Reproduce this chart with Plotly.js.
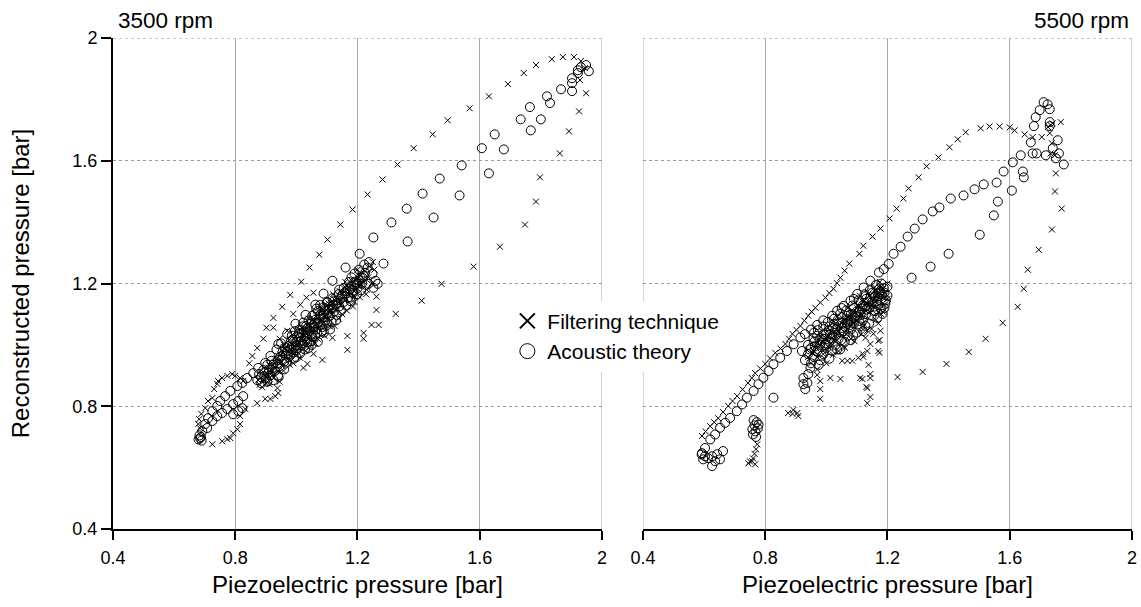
<!DOCTYPE html>
<html>
<head>
<meta charset="utf-8">
<script src="https://cdn.plot.ly/plotly-3.0.1.min.js"></script>
<style>html,body{margin:0;padding:0;background:#fff;}#chart{width:1141px;height:607px;}</style>
</head>
<body>
<div id="chart"></div>
<script>
// ---- data, [piezoelectric, reconstructed] in bar ----
const panelTitles = ['3500 rpm', '5500 rpm'];
const seriesNames = ['Filtering technique', 'Acoustic theory'];
const tickVals = [0.4, 0.8, 1.2, 1.6, 2];
const tickText = ['0.4', '0.8', '1.2', '1.6', '2'];

// 3500 rpm, filtering technique
const left3500Filt = [
[1.908,1.938],[1.872,1.938],[1.836,1.931],[1.784,1.912],[1.744,1.886],[1.692,1.850],[1.630,1.810],[1.567,1.771],
[1.495,1.732],[1.446,1.686],[1.384,1.641],[1.331,1.588],[1.282,1.539],[1.233,1.490],[1.184,1.441],[1.144,1.392],
[1.102,1.343],[1.075,1.294],[1.043,1.252],[1.016,1.206],[0.980,1.163],[0.954,1.124],[0.925,1.088],[0.902,1.056],
[0.892,1.020],[0.872,0.990],[0.856,0.964],[0.846,0.940],
[0.826,0.882],[0.816,0.892],[0.800,0.899],[0.790,0.905],[0.774,0.899],[0.757,0.892],[0.744,0.882],[0.741,0.873],
[0.731,0.856],[0.725,0.827],[0.711,0.817],[0.702,0.794],[0.689,0.775],[0.682,0.758],[0.679,0.742],[0.685,0.728],
[0.725,0.676],[0.757,0.686],[0.774,0.693],[0.784,0.696],[0.793,0.712],[0.807,0.725],[0.816,0.742],[0.816,0.768],
[0.833,0.791],[0.872,0.810],[0.898,0.824],[0.915,0.824],[0.931,0.833],[0.941,0.843],[0.938,0.859],
[1.931,1.925],[1.944,1.902],[1.928,1.863],[1.948,1.820],[1.925,1.761],[1.892,1.696],[1.862,1.624],[1.797,1.546],
[1.784,1.467],[1.748,1.392],[1.666,1.320],[1.580,1.255],[1.475,1.199],[1.410,1.144],[1.325,1.101],[1.269,1.065],
[1.246,1.065],[1.220,1.039],[1.220,1.020],[1.262,1.114],[1.262,1.157],[1.167,1.029],[1.167,0.984],[1.118,1.023],
[1.085,0.951],[1.056,0.971],[1.036,0.938],[1.023,0.925],
[0.990,1.101],[1.013,1.131],[1.033,1.154],[1.056,1.170],[0.970,1.046],[0.925,1.056],[0.945,1.020],
[0.880,0.870],[0.895,0.885],[0.905,0.900],[0.900,0.875],[0.915,0.905],[0.925,0.895],[0.930,0.925],[0.940,0.915],
[0.950,0.945],[0.955,0.930],[0.965,0.960],[0.975,0.950],[0.980,0.985],[0.990,0.970],[1.000,1.000],[1.005,0.985],
[1.015,1.020],[1.025,1.005],[1.030,1.040],[1.040,1.020],[1.045,1.060],[1.055,1.040],[1.060,1.075],[1.070,1.055],
[1.075,1.090],[1.085,1.070],[1.090,1.105],[1.100,1.085],[1.105,1.120],[1.115,1.100],[1.120,1.135],[1.130,1.115],
[1.135,1.150],[1.145,1.130],[1.150,1.165],[1.160,1.145],[1.165,1.180],[1.175,1.160],[1.180,1.195],[1.190,1.175],
[1.195,1.210],[1.205,1.190],[1.210,1.225],[1.220,1.205],[1.225,1.240],[1.235,1.220],[1.240,1.255],[1.250,1.270],
[1.255,1.245],[0.960,1.000],[1.000,1.045],[1.040,1.085],[1.080,1.125],[1.120,1.165],[1.160,1.205],[1.200,1.245],
[0.990,0.940],[1.030,0.980],[1.070,1.020],[1.110,1.060],[1.150,1.100],[1.190,1.140],[1.230,1.180],[1.250,1.200],
[0.912,0.935],[0.935,0.955],[0.958,0.975],[0.975,1.015],[0.995,1.025],[1.018,1.055],[1.035,1.065],[1.052,1.082],
[1.068,1.098],[1.088,1.115],[1.105,1.135],[1.125,1.148],[1.142,1.175],[1.158,1.190],[1.178,1.212],[0.958,0.915],
[0.978,0.935],[1.012,0.958],[1.045,0.995],[1.062,1.005],[1.092,1.030],[1.125,1.062],[1.138,1.085],[1.165,1.112],
[1.185,1.125],[1.208,1.155],[1.228,1.165],[0.875,0.885],[0.888,0.862],[0.912,0.872],[0.945,0.880],
[0.962,0.990],[0.985,1.002],[1.008,1.010],[1.022,1.032],[1.042,1.048],[1.058,1.052],[1.078,1.078],[1.095,1.092],
[1.112,1.112],[1.128,1.128],[0.948,0.968],[0.932,0.945],[0.918,0.918],[0.898,0.898],[1.145,1.145],[1.168,1.168],
[1.188,1.160],[1.212,1.198]
];

// 3500 rpm, acoustic theory
const left3500Acou = [
[1.948,1.912],[1.957,1.892],[1.931,1.905],[1.921,1.895],[1.921,1.886],[1.902,1.869],[1.902,1.853],[1.902,1.827],
[1.866,1.833],[1.820,1.810],[1.830,1.788],[1.764,1.775],[1.734,1.735],[1.800,1.735],[1.767,1.699],[1.649,1.686],
[1.679,1.637],[1.607,1.641],[1.541,1.585],[1.630,1.559],[1.469,1.542],[1.413,1.493],[1.534,1.487],[1.361,1.444],
[1.449,1.415],[1.311,1.399],[1.364,1.337],[1.252,1.350],[1.207,1.297],[1.285,1.265],[1.161,1.252],[1.118,1.209],
[1.089,1.167],[1.062,1.131],[1.030,1.098],[0.997,1.069],[0.970,1.036],[0.941,1.003],[0.915,0.964],[0.898,0.941],
[0.875,0.925],[0.859,0.908],[0.839,0.892],[0.823,0.876],[0.807,0.866],[0.784,0.850],[0.767,0.833],[0.751,0.817],
[0.741,0.801],[0.725,0.784],[0.711,0.761],[0.702,0.742],[0.692,0.719],
[0.826,0.833],[0.810,0.817],[0.793,0.807],[0.774,0.791],[0.757,0.778],[0.741,0.768],[0.725,0.752],[0.708,0.729],
[0.823,0.794],[0.810,0.784],[0.793,0.774],
[0.685,0.696],[0.690,0.688],[0.680,0.692],[0.688,0.700],[0.683,0.705],
[0.885,0.895],[0.895,0.910],[0.900,0.890],[0.910,0.920],[0.915,0.900],[0.925,0.935],[0.930,0.915],[0.940,0.950],
[0.945,0.930],[0.955,0.965],[0.960,0.945],[0.970,0.980],[0.975,0.960],[0.985,0.995],[0.990,0.975],[1.000,1.010],
[1.005,0.990],[1.015,1.025],[1.020,1.005],[1.030,1.040],[1.035,1.020],[1.045,1.055],[1.050,1.035],[1.060,1.070],
[1.065,1.050],[1.075,1.085],[1.080,1.065],[1.090,1.100],[1.095,1.080],[1.105,1.115],[1.110,1.095],[1.120,1.130],
[1.125,1.110],[1.135,1.145],[1.140,1.125],[1.150,1.160],[1.155,1.140],[1.165,1.175],[1.170,1.155],[1.180,1.190],
[1.185,1.170],[1.195,1.205],[1.200,1.185],[1.210,1.220],[1.215,1.200],[1.225,1.235],[1.233,1.252],[1.249,1.232],
[1.259,1.209],[1.266,1.199],[1.252,1.186],[1.236,1.199],[1.216,1.219],[1.200,1.199],[1.187,1.176],[1.177,1.154],
[1.020,1.060],[1.060,1.100],[1.100,1.140],[1.140,1.180],[1.180,1.220],[1.050,1.000],[1.090,1.040],[1.130,1.080],
[1.000,0.960],[0.960,0.920],[0.940,0.900],[1.070,1.010],[1.110,1.050],[1.040,0.990],
[0.935,0.985],[0.950,1.005],[0.962,0.992],[0.948,0.962],[0.985,1.030],[0.995,1.045],[1.010,1.050],[1.022,1.072],
[1.040,1.080],[1.052,1.095],[1.065,1.118],[1.078,1.130],[0.968,0.942],[0.992,0.955],[1.012,0.972],[1.028,0.985],
[1.048,1.012],[1.062,1.028],[1.083,1.045],[1.098,1.062],[1.115,1.075],[1.132,1.098],[1.147,1.112],[1.163,1.128],
[1.178,1.142],[1.198,1.165],[1.212,1.178],[1.228,1.195],[0.905,0.935],[0.918,0.948],[0.892,0.918],[0.878,0.905],
[0.872,0.885],[0.885,0.875],[0.905,0.880],[0.925,0.885],[0.942,0.895],[1.070,1.110],[1.088,1.122],[1.102,1.138],
[1.118,1.152],[1.138,1.165],[1.155,1.185],[1.172,1.205],[1.190,1.232],[1.205,1.245],[1.222,1.262],[1.238,1.270],
[1.032,1.062],[1.008,1.038],[0.982,1.012],
[0.955,0.978],[0.972,0.995],[0.988,1.018],[1.002,1.028],[1.018,1.040],[1.033,1.052],[1.048,1.070],[1.063,1.082],
[1.078,1.098],[1.093,1.112],[1.108,1.125],[1.122,1.142],[0.965,0.970],[0.982,0.988],[0.998,0.998],[1.015,1.012],
[1.030,1.028],[1.045,1.045],[1.058,1.058],[1.072,1.072],[1.088,1.088],[1.102,1.102],[1.118,1.118],[1.132,1.132],
[0.952,0.952],[0.938,0.940],[0.922,0.925],[0.908,0.908],[0.895,0.898],[1.145,1.150],[1.160,1.168],[1.175,1.182],
[1.190,1.195],[1.205,1.210],[1.220,1.225],[0.982,0.968],[1.000,0.982],[1.018,0.998],[1.035,1.008],[1.052,1.025],
[1.068,1.040],[1.085,1.058],[1.100,1.072]
];

// 5500 rpm, filtering technique
const right5500Filt = [
[0.593,0.703],[0.605,0.718],[0.620,0.735],[0.633,0.748],[0.646,0.761],[0.662,0.781],[0.679,0.801],[0.693,0.817],
[0.708,0.833],[0.726,0.855],[0.744,0.876],[0.756,0.892],[0.767,0.908],[0.784,0.923],[0.800,0.938],[0.816,0.956],
[0.833,0.974],[0.850,0.988],[0.866,1.003],[0.878,1.020],[0.889,1.036],[0.902,1.049],[0.915,1.062],[0.928,1.079],
[0.941,1.095],[0.952,1.108],[0.964,1.121],[0.980,1.138],[0.997,1.154],[1.010,1.169],[1.023,1.183],[1.035,1.201],
[1.046,1.219],[1.060,1.242],[1.075,1.265],
[1.108,1.297],[1.121,1.323],[1.151,1.353],[1.177,1.379],[1.207,1.412],[1.230,1.444],[1.252,1.477],[1.269,1.510],
[1.302,1.546],[1.328,1.582],[1.367,1.611],[1.403,1.644],[1.430,1.670],[1.456,1.693],[1.505,1.706],[1.534,1.712],
[1.567,1.712],[1.600,1.709],[1.616,1.699],[1.649,1.686],[1.675,1.677],[1.705,1.677],[1.731,1.690],[1.734,1.716],
[1.767,1.726],[1.740,1.722],[1.725,1.710],[1.738,1.657],[1.734,1.624],[1.748,1.618],[1.751,1.559],[1.748,1.500],
[1.770,1.444],[1.738,1.376],[1.695,1.310],[1.659,1.245],[1.646,1.183],[1.626,1.124],[1.577,1.072],[1.521,1.020],
[1.466,0.977],[1.393,0.938],[1.315,0.912],[1.233,0.895],
[1.144,0.892],[1.118,0.889],[1.131,0.863],[1.144,0.830],[1.138,0.935],[1.174,0.974],[1.174,1.016],[1.121,0.961],
[0.774,0.676],[0.770,0.660],[0.765,0.645],[0.760,0.630],[0.757,0.621],[0.767,0.611],[0.745,0.614],[0.750,0.620],
[0.875,0.778],[0.889,0.775],[0.905,0.778],[0.908,0.768],[0.892,0.788],
[0.970,0.902],[0.980,0.882],[0.980,0.856],[0.980,0.824],[1.013,0.892],[1.046,0.889],[1.052,0.948],[1.069,0.948],
[1.085,0.948],[1.111,0.892],[1.144,0.905],[1.134,0.859],[1.134,0.810],[1.105,0.958],[1.118,0.971],[1.134,0.980],
[1.144,1.003],[1.170,1.013],[1.170,0.980],[1.177,1.046],[1.154,1.036],[1.128,1.023],[1.134,1.046],
[0.940,0.960],[0.950,0.940],[0.960,0.980],[0.970,0.960],[0.980,1.000],[0.990,0.970],[1.000,1.020],[1.010,0.990],
[1.020,1.040],[1.030,1.010],[1.040,1.060],[1.050,1.030],[1.060,1.080],[1.070,1.050],[1.080,1.100],[1.090,1.070],
[1.100,1.120],[1.110,1.090],[1.120,1.140],[1.130,1.110],[1.140,1.160],[1.150,1.130],[1.160,1.180],[1.170,1.150],
[1.180,1.190],[1.190,1.170],[1.200,1.200],[1.190,1.130],[1.180,1.100],[1.200,1.150],[1.170,1.070],[1.030,1.070],
[1.070,1.120],[1.110,1.160],[1.000,0.940],[1.040,0.980],[1.080,1.020],[1.120,1.060],[0.970,0.920],[1.060,0.990],
[0.955,0.972],[0.968,0.988],[0.988,1.012],[1.005,1.032],[1.018,1.022],[1.038,1.045],[1.055,1.065],[1.072,1.088],
[1.088,1.108],[1.105,1.128],[1.122,1.148],[1.138,1.168],[1.158,1.188],[1.175,1.205],[1.022,0.968],[1.058,0.995],
[1.092,1.012],[1.115,1.035],[1.148,1.052],[1.162,1.082],[1.185,1.108],
[0.965,1.002],[0.982,1.025],[0.998,0.988],[1.015,1.005],[1.032,1.028],[1.048,1.052],[1.065,1.035],[1.082,1.062],
[1.098,1.080],[1.115,1.098],[1.132,1.135],[1.152,1.145],[1.168,1.165],[1.185,1.182]
];

// 5500 rpm, acoustic theory
const right5500Acou = [
[1.711,1.791],[1.724,1.784],[1.731,1.768],[1.698,1.765],[1.685,1.742],[1.679,1.713],[1.669,1.660],[1.675,1.624],
[1.688,1.624],[1.718,1.618],[1.731,1.726],[1.731,1.713],[1.757,1.667],[1.741,1.641],[1.761,1.624],[1.751,1.608],
[1.777,1.588],
[1.636,1.618],[1.610,1.595],[1.580,1.565],[1.557,1.529],[1.515,1.523],[1.485,1.507],[1.449,1.487],[1.407,1.477],
[1.370,1.448],[1.348,1.435],[1.315,1.409],[1.289,1.379],[1.266,1.353],[1.243,1.320],[1.220,1.297],[1.204,1.264],
[1.188,1.247],[1.172,1.236],
[1.643,1.565],[1.646,1.546],[1.607,1.503],[1.561,1.467],[1.548,1.422],[1.502,1.359],[1.400,1.297],[1.341,1.255],
[1.279,1.219],
[1.144,1.209],[1.122,1.187],[1.101,1.166],[1.079,1.144],[1.057,1.127],[1.035,1.111],[1.019,1.095],
[0.990,1.080],[0.970,1.065],[0.950,1.050],[0.930,1.035],
[0.915,1.024],[0.893,1.002],[0.871,0.980],[0.849,0.958],[0.827,0.937],[0.811,0.915],[0.794,0.893],[0.778,0.872],
[0.762,0.850],[0.740,0.828],[0.724,0.806],[0.707,0.784],[0.685,0.762],[0.669,0.746],[0.652,0.730],[0.636,0.708],
[0.620,0.692],[0.603,0.664],[0.592,0.643],
[0.593,0.647],[0.603,0.637],[0.597,0.627],[0.613,0.631],[0.626,0.637],[0.636,0.621],[0.652,0.627],[0.626,0.605],
[0.643,0.644],[0.662,0.654],[0.827,0.828],
[0.762,0.755],[0.772,0.748],[0.765,0.738],[0.776,0.728],[0.768,0.718],[0.760,0.708],[0.778,0.740],[0.770,0.700],
[0.758,0.725],
[0.925,0.892],[0.925,0.872],[0.931,0.856],[0.938,0.876],[0.941,0.905],[0.948,0.925],
[0.930,0.950],[0.940,0.970],[0.950,0.940],[0.950,0.990],[0.960,0.960],[0.960,1.010],[0.970,0.980],[0.970,1.030],
[0.980,1.000],[0.980,0.950],[0.990,1.020],[0.990,0.970],[1.000,1.040],[1.000,0.990],[1.010,1.010],[1.010,1.060],
[1.020,1.030],[1.020,0.980],[1.030,1.050],[1.030,1.000],[1.040,1.070],[1.040,1.020],[1.050,1.040],[1.050,1.090],
[1.060,1.060],[1.060,1.010],[1.070,1.080],[1.070,1.030],[1.080,1.100],[1.080,1.050],[1.090,1.070],[1.090,1.120],
[1.100,1.090],[1.100,1.040],[1.110,1.110],[1.110,1.060],[1.120,1.130],[1.120,1.080],[1.130,1.100],[1.130,1.150],
[1.140,1.120],[1.140,1.070],[1.150,1.140],[1.150,1.170],[1.160,1.110],[1.160,1.160],[1.170,1.130],[1.170,1.180],
[1.180,1.150],[1.180,1.200],[1.190,1.170],[1.190,1.120],[1.200,1.190],[1.200,1.160],[1.177,1.167],[1.193,1.134],
[1.184,1.101],[1.167,1.088],[1.154,1.111],[0.960,1.040],[0.990,1.060],[0.940,1.000],[0.920,0.980],[1.050,1.120],
[1.090,1.150],[0.975,0.935],[1.010,0.955],[1.045,0.985],[1.080,1.015],[1.120,1.045],
[0.945,0.985],[0.958,1.022],[0.972,1.048],[0.985,0.965],[0.998,1.005],[1.012,1.035],[1.025,1.068],[1.035,0.985],
[1.048,1.015],[1.058,1.045],[1.068,1.095],[1.078,1.065],[1.088,1.032],[1.098,1.108],[1.108,1.078],[1.118,1.118],
[1.128,1.062],[1.138,1.138],[1.148,1.095],[1.158,1.125],[1.168,1.158],[1.178,1.118],[1.188,1.185],[1.195,1.145],
[1.162,1.195],[1.142,1.178],[1.125,1.165],[1.105,1.145],[1.085,1.128],[1.065,1.112],[1.045,1.102],[1.025,1.085],
[1.005,1.075],
[0.962,0.995],[0.978,1.015],[0.992,1.035],[1.008,1.048],[1.022,1.055],[1.038,1.082],[1.052,1.072],[1.068,1.068],
[1.082,1.085],[1.095,1.095],[1.112,1.098],[1.128,1.125],[1.145,1.155],[1.165,1.142],[1.182,1.165],[0.995,1.000],
[1.015,1.020],[1.032,1.032],[1.052,1.055],[1.072,1.075],[1.092,1.088],[1.112,1.138],[1.132,1.115],[1.152,1.132],
[1.172,1.170]
];

// ---- build ----
const px = a => a.map(p => p[0]);
const py = a => a.map(p => p[1]);
const FONT = 'Liberation Sans, Arial, Helvetica, sans-serif';
const xMark = {symbol:'x-thin-open', size:6, color:'#000', line:{color:'#000', width:1}};
const oMark = {symbol:'circle-open', size:9, color:'#000', line:{color:'#000', width:1}};

const traces = [
  {type:'scatter', mode:'markers', x:px(left3500Filt), y:py(left3500Filt), xaxis:'x', yaxis:'y', marker:xMark, showlegend:false, hoverinfo:'skip'},
  {type:'scatter', mode:'markers', x:px(left3500Acou), y:py(left3500Acou), xaxis:'x', yaxis:'y', marker:oMark, showlegend:false, hoverinfo:'skip'},
  {type:'scatter', mode:'markers', x:px(right5500Filt), y:py(right5500Filt), xaxis:'x2', yaxis:'y2', marker:xMark, showlegend:false, hoverinfo:'skip'},
  {type:'scatter', mode:'markers', x:px(right5500Acou), y:py(right5500Acou), xaxis:'x2', yaxis:'y2', marker:oMark, showlegend:false, hoverinfo:'skip'},
  {type:'scatter', mode:'markers', x:[null], y:[null], name:seriesNames[0], xaxis:'x', yaxis:'y',
   marker:{symbol:'x-thin-open', size:15, color:'#000', line:{color:'#000', width:2}}},
  {type:'scatter', mode:'markers', x:[null], y:[null], name:seriesNames[1], xaxis:'x', yaxis:'y',
   marker:{symbol:'circle-open', size:15, color:'#000', line:{color:'#000', width:1}}}
];

const GRIDC = '#a8a8a8';
const xBase = {
  range:[0.4, 2.0001], tickmode:'array', tickvals:tickVals, ticktext:tickText,
  showline:true, linecolor:'#000', linewidth:2, ticks:'outside', ticklen:9, tickwidth:2, tickcolor:'#000',
  showgrid:true, gridcolor:GRIDC, gridwidth:1, zeroline:false,
  tickfont:{family:FONT, size:18, color:'#000'}, ticklabelstandoff:2,
  title:{text:'Piezoelectric pressure [bar]', font:{family:FONT, size:24, color:'#000'}, standoff:10}
};
// edge grid lines (Plotly drops grid lines that fall on the plot edge)
const edge = (xr, yr, vert, dash) => vert
  ? {type:'line', layer:'below', xref:xr, yref:yr+' domain', x0:0, x1:0, y0:0, y1:1, line:{color:GRIDC, width:1, dash:dash}}
  : {type:'line', layer:'below', xref:xr+' domain', yref:yr, x0:0, x1:1, y0:0, y1:0, line:{color:'#9a9a9a', width:1, dash:dash}};
const shapes = [];
[['x','y'],['x2','y2']].forEach(([xr,yr]) => {
  const v = edge(xr, yr, true, 'solid'); v.x0 = v.x1 = tickVals[tickVals.length-1]; shapes.push(v);
  const h = edge(xr, yr, false, 'dot'); h.y0 = h.y1 = tickVals[tickVals.length-1]; shapes.push(h);
});
{ const v = edge('x2', 'y2', true, 'solid'); v.x0 = v.x1 = tickVals[0]; shapes.push(v); }

const layout = {
  width:1141, height:607,
  margin:{l:113, r:9, t:38, b:78, pad:0},
  paper_bgcolor:'#fff', plot_bgcolor:'#fff',
  font:{family:FONT, color:'#000'},
  xaxis:Object.assign({}, xBase, {domain:[0, 0.4799], anchor:'y'}),
  xaxis2:Object.assign({}, xBase, {domain:[0.5201, 1], anchor:'y2'}),
  yaxis:{
    domain:[0,1], anchor:'x', range:[0.4, 2.0001], tickmode:'array', tickvals:tickVals, ticktext:tickText,
    showline:true, linecolor:'#000', linewidth:2, ticks:'outside', ticklen:10, tickwidth:2, tickcolor:'#000',
    showgrid:true, gridcolor:'#9a9a9a', gridwidth:1, griddash:'dot', zeroline:false,
    tickfont:{family:FONT, size:18, color:'#000'},
    title:{text:'Reconstructed pressure [bar]', font:{family:FONT, size:24, color:'#000'}, standoff:36}
  },
  yaxis2:{
    domain:[0,1], anchor:'x2', range:[0.4, 2.0001], tickmode:'array', tickvals:tickVals,
    showline:false, ticks:'', showticklabels:false,
    showgrid:true, gridcolor:'#9a9a9a', gridwidth:1, griddash:'dot', zeroline:false
  },
  shapes:shapes,
  showlegend:true,
  legend:{x:0.387, y:0.465, xanchor:'left', yanchor:'top', bgcolor:'#fff', borderwidth:0,
    font:{family:FONT, size:21, color:'#000'}, tracegroupgap:0},
  annotations:[
    {text:panelTitles[0], xref:'paper', yref:'paper', x:0.003, y:1, xanchor:'left', yanchor:'bottom', yshift:3,
     showarrow:false, font:{family:FONT, size:22.5, color:'#000'}},
    {text:panelTitles[1], xref:'paper', yref:'paper', x:1, y:1, xanchor:'right', yanchor:'bottom', yshift:3, xshift:-1,
     showarrow:false, font:{family:FONT, size:22.5, color:'#000'}}
  ]
};
Plotly.newPlot('chart', traces, layout, {displayModeBar:false, staticPlot:true});
</script>
</body>
</html>
